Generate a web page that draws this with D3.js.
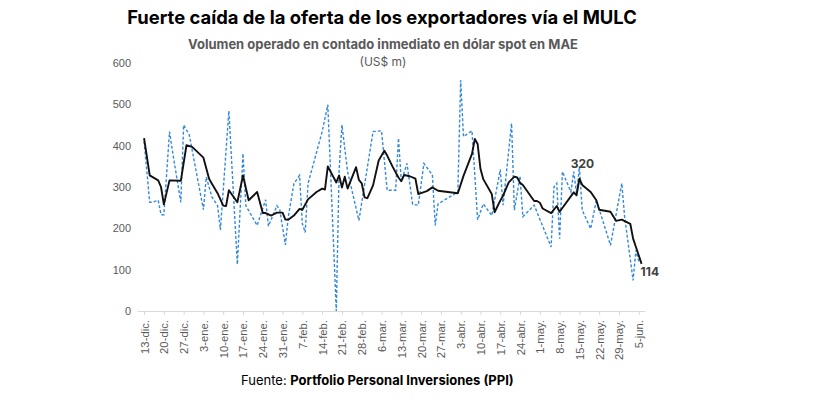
<!DOCTYPE html>
<html>
<head>
<meta charset="utf-8">
<script src="https://cdn.jsdelivr.net/npm/d3@7.9.0/dist/d3.min.js"></script>
<style>
  body { margin: 0; background: #fff; }
  svg { font-family: Inter, "Liberation Sans", sans-serif; }
</style>
</head>
<body>
<svg width="825" height="403"></svg>
<script>
// weekly tick labels
const tickLabels = ["13-dic.", "20-dic.", "27-dic.", "3-ene.", "10-ene.", "17-ene.", "24-ene.", "31-ene.",
  "7-feb.", "14-feb.", "21-feb.", "28-feb.", "6-mar.", "13-mar.", "20-mar.", "27-mar.", "3-abr.",
  "10-abr.", "17-abr.", "24-abr.", "1-may.", "8-may.", "15-may.", "22-may.", "29-may.", "5-jun."];

// daily volume (dashed)
const dailyDates = ["2022-12-13", "2022-12-15", "2022-12-16", "2022-12-18", "2022-12-19", "2022-12-20",
  "2022-12-22", "2022-12-23", "2022-12-26", "2022-12-27", "2022-12-29", "2023-01-03", "2023-01-04",
  "2023-01-06", "2023-01-08", "2023-01-09", "2023-01-12", "2023-01-15", "2023-01-17", "2023-01-18",
  "2023-01-22", "2023-01-25", "2023-01-26", "2023-01-29", "2023-01-30", "2023-02-01", "2023-02-02",
  "2023-02-04", "2023-02-06", "2023-02-07", "2023-02-08", "2023-02-09", "2023-02-14", "2023-02-16",
  "2023-02-19", "2023-02-20", "2023-02-21", "2023-02-23", "2023-02-27", "2023-03-04", "2023-03-07",
  "2023-03-09", "2023-03-12", "2023-03-13", "2023-03-14", "2023-03-16", "2023-03-18", "2023-03-20",
  "2023-03-22", "2023-03-25", "2023-03-26", "2023-03-27", "2023-04-03", "2023-04-04", "2023-04-05",
  "2023-04-08", "2023-04-10", "2023-04-12", "2023-04-15", "2023-04-18", "2023-04-19", "2023-04-22",
  "2023-04-23", "2023-04-25", "2023-04-26", "2023-04-30", "2023-05-06", "2023-05-07", "2023-05-08",
  "2023-05-09", "2023-05-10", "2023-05-13", "2023-05-14", "2023-05-15", "2023-05-16", "2023-05-17",
  "2023-05-20", "2023-05-22", "2023-05-27", "2023-05-31", "2023-06-01", "2023-06-04", "2023-06-05",
  "2023-06-06"];
const dailyValues = [410, 263, 263, 268, 233, 233, 434, 389, 263, 450, 426, 245, 324, 276, 255, 196, 484,
  113, 381, 255, 207, 269, 205, 255, 245, 160, 227, 308, 328, 211, 190, 308, 434, 499, 0, 340, 450, 337,
  219, 434, 436, 292, 292, 418, 313, 357, 258, 256, 357, 329, 207, 259, 288, 558, 422, 436, 221, 259, 231,
  342, 256, 454, 244, 326, 228, 256, 155, 300, 309, 175, 337, 288, 337, 284, 349, 244, 199, 268, 159, 309,
  228, 74, 147, 120];

// moving average (solid)
const avgDates = ["2022-12-13", "2022-12-15", "2022-12-18", "2022-12-19", "2022-12-20", "2022-12-22",
  "2022-12-26", "2022-12-28", "2022-12-30", "2023-01-03", "2023-01-05", "2023-01-06", "2023-01-08",
  "2023-01-10", "2023-01-11", "2023-01-12", "2023-01-15", "2023-01-17", "2023-01-19", "2023-01-22",
  "2023-01-24", "2023-01-25", "2023-01-27", "2023-01-29", "2023-01-31", "2023-02-01", "2023-02-02",
  "2023-02-04", "2023-02-06", "2023-02-07", "2023-02-09", "2023-02-12", "2023-02-14", "2023-02-15",
  "2023-02-16", "2023-02-19", "2023-02-20", "2023-02-21", "2023-02-22", "2023-02-23", "2023-02-26",
  "2023-02-27", "2023-02-28", "2023-03-01", "2023-03-02", "2023-03-04", "2023-03-06", "2023-03-08",
  "2023-03-09", "2023-03-11", "2023-03-13", "2023-03-14", "2023-03-15", "2023-03-17", "2023-03-19",
  "2023-03-20", "2023-03-23", "2023-03-25", "2023-03-27", "2023-04-03", "2023-04-05", "2023-04-08",
  "2023-04-09", "2023-04-10", "2023-04-11", "2023-04-12", "2023-04-15", "2023-04-16", "2023-04-18",
  "2023-04-19", "2023-04-21", "2023-04-23", "2023-04-24", "2023-04-25", "2023-04-26", "2023-04-30",
  "2023-05-01", "2023-05-02", "2023-05-03", "2023-05-06", "2023-05-08", "2023-05-09", "2023-05-14",
  "2023-05-15", "2023-05-16", "2023-05-17", "2023-05-20", "2023-05-22", "2023-05-23", "2023-05-27",
  "2023-05-29", "2023-05-31", "2023-06-03", "2023-06-04", "2023-06-05", "2023-06-07"];
const avgValues = [418, 328, 316, 300, 258, 316, 315, 401, 397, 371, 320, 308, 285, 255, 254, 292, 263,
  328, 268, 288, 237, 237, 231, 238, 238, 221, 221, 231, 247, 245, 270, 288, 296, 294, 350, 311, 328, 299,
  325, 296, 348, 317, 309, 275, 273, 304, 364, 388, 376, 348, 323, 314, 329, 326, 320, 283, 290, 299, 291,
  285, 327, 380, 416, 404, 344, 319, 283, 239, 267, 279, 311, 325, 323, 310, 305, 266, 266, 262, 248, 237,
  254, 240, 287, 280, 320, 305, 288, 268, 245, 240, 218, 221, 211, 175, 155, 114];

const labelledDates = ["2023-05-16", "2023-06-07"];
const yTicks = [0, 100, 200, 300, 400, 500, 600];

const parse = d3.timeParse("%Y-%m-%d");
const daily = dailyDates.map((d, i) => ({ date: parse(d), value: dailyValues[i] }));
const avg = avgDates.map((d, i) => ({ date: parse(d), value: avgValues[i] }));

const svg = d3.select("svg");

const x = d3.scaleTime()
  .domain([new Date(2022, 11, 10, 12), new Date(2023, 5, 8, 5)])
  .range([137, 645]);
const y = d3.scaleLinear().domain([0, 600]).range([311, 63]);

const firstTick = parse("2022-12-13");
const tickDates = tickLabels.map((_, i) => d3.timeDay.offset(firstTick, 7 * i));

// titles
svg.append("text").attr("x", 382).attr("y", 24).attr("text-anchor", "middle")
  .attr("font-size", 18.4).attr("font-weight", 700).attr("fill", "#000")
  .text("Fuerte caída de la oferta de los exportadores vía el MULC");
svg.append("text").attr("x", 383).attr("y", 49).attr("text-anchor", "middle")
  .attr("font-size", 13).attr("font-weight", 700).attr("fill", "#595959")
  .text("Volumen operado en contado inmediato en dólar spot en MAE");
svg.append("text").attr("x", 383).attr("y", 66).attr("text-anchor", "middle")
  .attr("font-size", 12).attr("fill", "#595959")
  .text("(US$ m)");

// y axis
const yAxis = svg.append("g").attr("transform", "translate(131,0)")
  .call(d3.axisLeft(y).tickValues(yTicks).tickSize(0).tickPadding(0));
yAxis.select(".domain").remove();
yAxis.selectAll("text").attr("font-size", 11).attr("fill", "#595959").attr("font-family", null);

// x axis
const xAxis = svg.append("g").attr("transform", "translate(0,311)")
  .call(d3.axisBottom(x).tickValues(tickDates).tickSize(4).tickSizeOuter(0)
    .tickFormat((d, i) => tickLabels[i]));
xAxis.select(".domain").attr("stroke", "#d9d9d9");
xAxis.selectAll(".tick line").attr("stroke", "#d9d9d9");
xAxis.selectAll("text")
  .attr("font-size", 11.3).attr("fill", "#595959").attr("font-family", null)
  .attr("text-anchor", "end")
  .attr("transform", "rotate(-90)")
  .attr("x", -9).attr("y", 0).attr("dy", "0.35em");

const line = d3.line().x(d => x(d.date)).y(d => y(d.value));

svg.append("path").datum(daily)
  .attr("d", line).attr("fill", "none")
  .attr("stroke", "#3389dc").attr("stroke-width", 1.4)
  .attr("stroke-dasharray", "3,2");

svg.append("path").datum(avg)
  .attr("d", line).attr("fill", "none")
  .attr("stroke", "#111").attr("stroke-width", 1.9)
  .attr("stroke-linejoin", "round");

// data labels
const lbl = avg.filter(d => labelledDates.includes(d3.timeFormat("%Y-%m-%d")(d.date)));
svg.append("text").attr("x", x(lbl[0].date) + 3).attr("y", y(lbl[0].value) - 11)
  .attr("text-anchor", "middle").attr("font-size", 12).attr("font-weight", 700).attr("fill", "#404040")
  .text(lbl[0].value);
svg.append("text").attr("x", x(lbl[1].date) - 1).attr("y", y(lbl[1].value) + 12)
  .attr("font-size", 12).attr("font-weight", 700).attr("fill", "#404040")
  .text(lbl[1].value);

// source
const src = svg.append("text").attr("x", 241).attr("y", 385)
  .attr("font-size", 13).attr("fill", "#000");
src.append("tspan").text("Fuente: ");
src.append("tspan").attr("font-weight", 700).text("Portfolio Personal Inversiones (PPI)");
</script>
</body>
</html>
